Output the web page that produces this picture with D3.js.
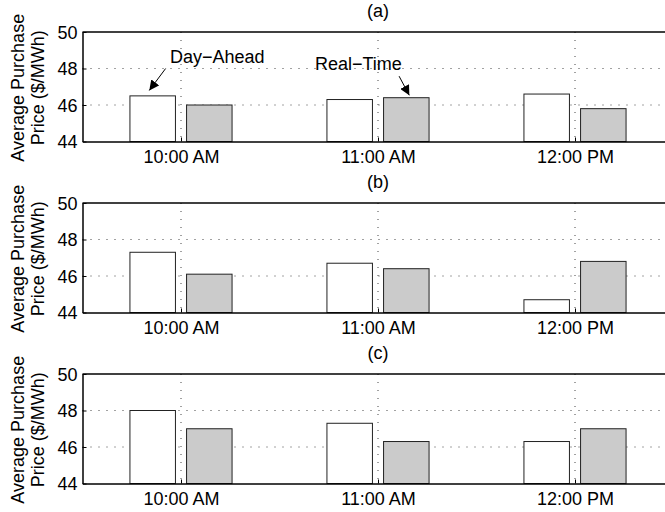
<!DOCTYPE html>
<html>
<head>
<meta charset="utf-8">
<script src="https://cdn.jsdelivr.net/npm/d3@7"></script>
<style>
    body { margin: 0; background: #fff; }
    text { font-family: "Liberation Sans", Arial, sans-serif; fill: #000; }
</style>
</head>
<body>
<div id="chart"></div>
<script>
// Hour of the bid, one group of bars per hour.
const times = ["10:00 AM", "11:00 AM", "12:00 PM"];
const panelLabels = ["(a)", "(b)", "(c)"];
const yTicks = [44, 46, 48, 50];

// Average purchase price ($/MWh).
const dayAheadA = [46.5, 46.3, 46.6];
const realTimeA = [46.0, 46.4, 45.8];
const dayAheadB = [47.3, 46.7, 44.7];
const realTimeB = [46.1, 46.4, 46.8];
const dayAheadC = [48.0, 47.3, 46.3];
const realTimeC = [47.0, 46.3, 47.0];

const panels = [
    {label: panelLabels[0], dayAhead: dayAheadA, realTime: realTimeA},
    {label: panelLabels[1], dayAhead: dayAheadB, realTime: realTimeB},
    {label: panelLabels[2], dayAhead: dayAheadC, realTime: realTimeC}
];

const width = 665;
const height = 512;
const left = 82.5;
const panelTop = 32;
const panelStep = 171;
const panelHeight = 109.5;
const fontSize = 18;

// Bars are offset either side of the hour, in x units.
const barOffset = 0.1437;
const barWidth = 0.231;

const svg = d3.select("#chart").append("svg")
    .attr("width", width)
    .attr("height", height);

// The axes run past the right edge of the picture, as in the original.
const x = d3.scaleLinear()
    .domain([0.5, 3.5])
    .range([left, 673.5]);

panels.forEach((panel, i) => {
    const top = panelTop + i * panelStep;
    const bottom = top + panelHeight;

    const y = d3.scaleLinear()
        .domain([44, 50])
        .range([bottom, top]);

    const g = svg.append("g");

    // Dotted grid, drawn first so the bars cover it.
    g.selectAll(".hgrid")
        .data(yTicks.slice(1, -1))
        .join("line")
        .attr("x1", left)
        .attr("x2", width)
        .attr("y1", d => y(d))
        .attr("y2", d => y(d))
        .attr("stroke", "#444")
        .attr("stroke-width", 1)
        .attr("stroke-dasharray", "1,7");

    g.selectAll(".vgrid")
        .data(times)
        .join("line")
        .attr("x1", (d, j) => x(j + 1))
        .attr("x2", (d, j) => x(j + 1))
        .attr("y1", top)
        .attr("y2", bottom)
        .attr("stroke", "#444")
        .attr("stroke-width", 1)
        .attr("stroke-dasharray", "1,7");

    // Day-ahead (white) and real-time (grey) bars.
    const series = [
        {values: panel.dayAhead, fill: "#fff", shift: -barOffset},
        {values: panel.realTime, fill: "#cbcbcb", shift: barOffset}
    ];

    series.forEach(s => {
        g.selectAll(null)
            .data(s.values)
            .join("rect")
            .attr("x", (d, j) => x(j + 1 + s.shift - barWidth / 2))
            .attr("width", x(barWidth) - x(0))
            .attr("y", d => y(d))
            .attr("height", d => y(44) - y(d))
            .attr("fill", s.fill)
            .attr("stroke", "#222")
            .attr("stroke-width", 1);
    });

    // Axes with inward ticks.
    const xAxis = d3.axisBottom(x)
        .tickValues([1, 2, 3])
        .tickFormat((d, j) => times[j])
        .tickSizeInner(-4)
        .tickSizeOuter(0)
        .tickPadding(9);

    const yAxis = d3.axisLeft(y)
        .tickValues(yTicks)
        .tickFormat(d3.format("d"))
        .tickSizeInner(-4)
        .tickSizeOuter(0)
        .tickPadding(5);

    const xg = g.append("g")
        .attr("transform", `translate(0, ${bottom})`)
        .call(xAxis);

    const yg = g.append("g")
        .attr("transform", `translate(${left}, 0)`)
        .call(yAxis);

    [xg, yg].forEach(a => {
        a.selectAll("path").attr("stroke", "#000").attr("stroke-width", 1.5);
        a.selectAll("line").attr("stroke", "#000");
        a.selectAll("text")
            .style("font-size", fontSize + "px")
            .attr("fill", "#000")
            .attr("font-family", null);
    });
    yg.selectAll("text").attr("dy", "0.35em");

    // Top border of the box.
    g.append("line")
        .attr("x1", left)
        .attr("x2", width)
        .attr("y1", top)
        .attr("y2", top)
        .attr("stroke", "#000")
        .attr("stroke-width", 1.5);

    // Panel title above the middle hour.
    g.append("text")
        .attr("x", x(2))
        .attr("y", top - 15)
        .attr("text-anchor", "middle")
        .style("font-size", fontSize + "px")
        .text(panel.label);

    // Two-line y label.
    const midY = (top + bottom) / 2 + 1;
    [["Average Purchase", 24], ["Price ($/MWh)", 44]].forEach(([t, bx]) => {
        g.append("text")
            .attr("transform", `translate(${bx}, ${midY}) rotate(-90)`)
            .attr("text-anchor", "middle")
            .style("font-size", fontSize + "px")
            .text(t);
    });

    // Annotations only on the first panel.
    if (i === 0) {
        const defs = svg.append("defs");
        defs.append("marker")
            .attr("id", "head")
            .attr("viewBox", "0 0 10 10")
            .attr("refX", 10)
            .attr("refY", 5)
            .attr("markerWidth", 10)
            .attr("markerHeight", 10)
            .attr("markerUnits", "userSpaceOnUse")
            .attr("orient", "auto")
            .append("path")
            .attr("d", "M0,0 L10,5 L0,10 Z")
            .attr("fill", "#000");

        const notes = [
            {text: "Day\u2212Ahead", tx: 0.944, ty: 48.29, x1: 0.922, y1: 48.0, x2: 0.839, y2: 46.8},
            {text: "Real\u2212Time", tx: 1.680, ty: 47.91, x1: 2.107, y1: 47.58, x2: 2.159, y2: 46.53}
        ];

        notes.forEach(n => {
            g.append("text")
                .attr("x", x(n.tx))
                .attr("y", y(n.ty))
                .style("font-size", fontSize + "px")
                .text(n.text);
            g.append("line")
                .attr("x1", x(n.x1))
                .attr("y1", y(n.y1))
                .attr("x2", x(n.x2))
                .attr("y2", y(n.y2))
                .attr("stroke", "#000")
                .attr("stroke-width", 1)
                .attr("marker-end", "url(#head)");
        });
    }
});
</script>
</body>
</html>
